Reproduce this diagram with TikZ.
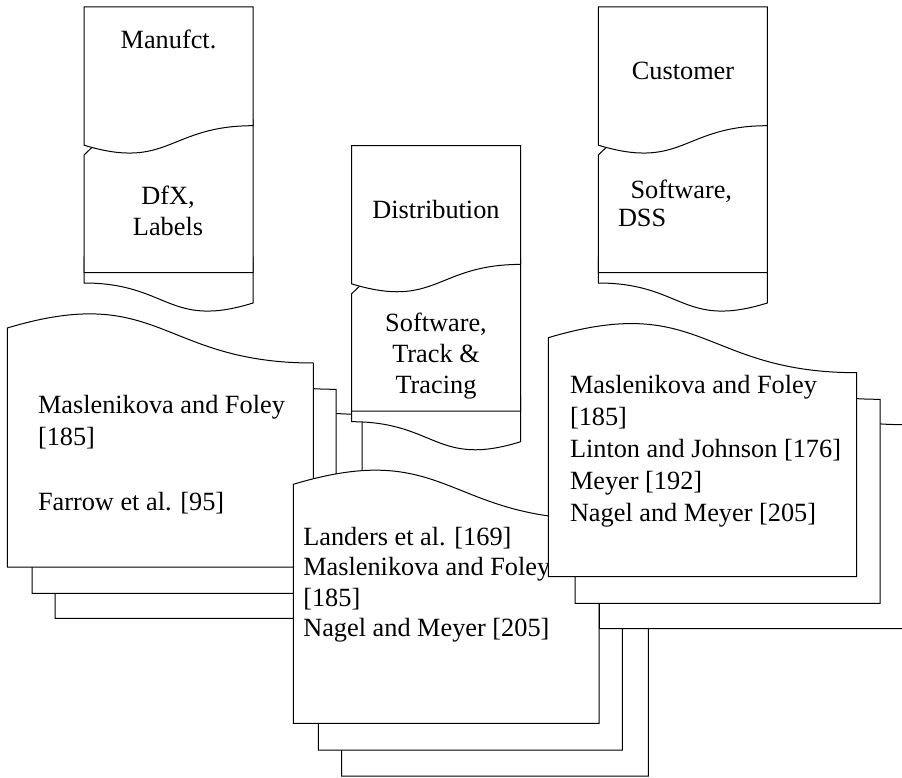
\documentclass[tikz,border=0pt]{standalone}
\usepackage{fontspec}
\setmainfont{Liberation Serif}
\newcommand\flowbox[2]{%
  \begin{scope}[shift={(#1,#2)}]
    \draw[shp] (0,250) -- (169,250) -- (169,296) .. controls (84.5,322.3) and (84.5,276) .. (0,276) -- cycle;
    \draw[shp] (0,265.5) -- (0,148) -- (11,137.5) -- (169,113) -- (169,265.5) -- cycle;
    \draw[shp] (0,0) -- (169,0) -- (169,118.7) .. controls (84.5,118.7) and (84.5,163.8) .. (0,138.2) -- cycle;
  \end{scope}}
\newcommand\docstack[3]{%
  \draw[shp] (#1,#3) -- (#2,#3) -- (#2,{#3-204})
    .. controls ({(#1+#2)/2},{#3-204}) and ({(#1+#2)/2},{#3-285}) .. (#1,{#3-239}) -- cycle;}
\begin{document}
\begin{tikzpicture}[x=1pt,y=-1pt,
  shp/.style={draw=black,fill=white,line width=1pt,line join=miter},
  lbl/.style={inner sep=0pt,outer sep=0pt,text=black}]
\useasboundingbox (0,0) rectangle (902,778);
\clip (0,0) rectangle (902,778);
% left stack
\docstack{55}{362}{618.3}
\docstack{32}{336}{593.3}
\docstack{7.3}{313.3}{567}
\node[lbl,anchor=base west,font={\fontsize{26.3}{32.5}\selectfont}] (lefttext) at (38,413.3)
  {\begin{tabular}[t]{@{}l@{}}Maslenikova and Foley\\ {[185]}\\ \\ Farrow et al. [95]\end{tabular}};
% top boxes
\flowbox{84}{7}
\flowbox{351.7}{145.7}
\flowbox{598.3}{7}
\node[lbl,anchor=base,font={\fontsize{26.3}{31}\selectfont}] (manu) at (168.5,48.3) {Manufct.};
\node[lbl,anchor=base,font={\fontsize{26.3}{31}\selectfont}] (dfx) at (168,205)
  {\begin{tabular}[t]{@{}c@{}}DfX,\\ Labels\end{tabular}};
\node[lbl,anchor=base,font={\fontsize{26.3}{30.8}\selectfont}] (dist) at (436,218.3) {Distribution};
\node[lbl,anchor=base,font={\fontsize{26.3}{30.8}\selectfont}] (distsw) at (436,331.7)
  {\begin{tabular}[t]{@{}c@{}}Software,\\ Track \&\\ Tracing\end{tabular}};
\node[lbl,anchor=base,font={\fontsize{26.3}{30}\selectfont}] (cust) at (683,80) {Customer};
\node[lbl,anchor=base west,font={\fontsize{26.3}{28.5}\selectfont}] (custsw) at (618,198.3)
  {\begin{tabular}[t]{@{}l@{}}\hspace*{12.5pt}Software,\\ DSS\end{tabular}};
% middle stack
\docstack{341.7}{648.3}{776}
\docstack{318.3}{622.3}{750}
\docstack{293.3}{599}{723.3}
\node[lbl,anchor=base west,font={\fontsize{26.3}{30.6}\selectfont}] (midtext) at (303.3,545)
  {\begin{tabular}[t]{@{}l@{}}Landers et al. [169]\\ Maslenikova and Foley\\ {[185]}\\ Nagel and Meyer [205]\end{tabular}};
% right stack
\docstack{599.3}{905.5}{628.7}
\docstack{575}{880}{603.3}
\docstack{548.3}{856.7}{576.7}
\node[lbl,anchor=base west,font={\fontsize{26.3}{32.1}\selectfont}] (righttext) at (570,393.3)
  {\begin{tabular}[t]{@{}l@{}}Maslenikova and Foley\\ {[185]}\\ Linton and Johnson [176]\\ Meyer [192]\\ Nagel and Meyer [205]\end{tabular}};
\end{tikzpicture}
\end{document}
